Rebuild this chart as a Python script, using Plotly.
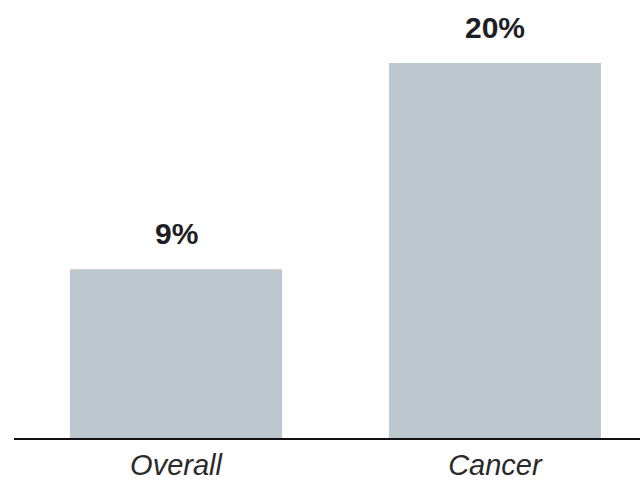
import plotly.graph_objects as go

# Share of cases by group (percent)
categories = ["Overall", "Cancer"]
values = [9, 20]
value_labels = [f"{v}%" for v in values]

bar_color = "#bcc7ce"
font_family = "Liberation Sans, Arial, sans-serif"

fig = go.Figure()
fig.add_trace(go.Bar(
    x=categories,
    y=values,
    marker=dict(color=bar_color, line=dict(width=0)),
    hoverinfo="skip",
))

# Value labels above each bar
for cat, v, lab in zip(categories, values, value_labels):
    fig.add_annotation(
        x=cat, y=v, text=f"<b>{lab}</b>", showarrow=False,
        yanchor="bottom", yshift=17,
        font=dict(family=font_family, size=30, color="#1e1e24"),
    )

fig.update_layout(
    width=640, height=481,
    margin=dict(l=14, r=0, t=0, b=43, autoexpand=False),
    paper_bgcolor="white", plot_bgcolor="white",
    bargap=0.335,
    showlegend=False,
    xaxis=dict(
        range=[-0.508, 1.455], automargin=False,
        showline=True, linecolor="#111111", linewidth=2,
        showgrid=False, zeroline=False, ticks="",
        ticklabelstandoff=0,
        tickfont=dict(family=font_family, size=29, color="#2a2a2a", style="italic"),
    ),
    yaxis=dict(
        range=[0, 23.36], visible=False, showgrid=False, zeroline=False,
        automargin=False,
    ),
)

fig.write_html("out.html")
